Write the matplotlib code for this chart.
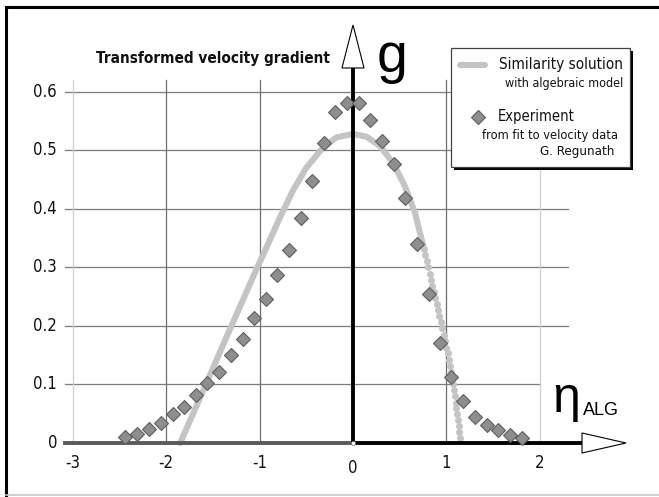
import matplotlib
matplotlib.use('Agg')
import matplotlib.pyplot as plt
from matplotlib.patches import Polygon, Rectangle

# experimental g(eta), from fit to velocity data
exp_eta = [-2.44, -2.31, -2.18, -2.06, -1.93, -1.81, -1.68, -1.56, -1.43, -1.31,
           -1.18, -1.06, -0.935, -0.81, -0.685, -0.56, -0.44, -0.31, -0.19, -0.06,
           0.06, 0.18, 0.31, 0.44, 0.56, 0.685, 0.815, 0.935, 1.05, 1.18,
           1.31, 1.43, 1.55, 1.68, 1.81]
exp_g = [0.010, 0.015, 0.024, 0.034, 0.050, 0.062, 0.082, 0.102, 0.122, 0.150,
         0.178, 0.214, 0.246, 0.287, 0.329, 0.385, 0.448, 0.513, 0.565, 0.581,
         0.581, 0.552, 0.516, 0.476, 0.419, 0.340, 0.254, 0.170, 0.112, 0.071,
         0.045, 0.031, 0.022, 0.014, 0.008]

# similarity solution with algebraic model
sim_eta = [-1.85, -1.57, -1.335, -1.03, -0.92, -0.78, -0.64, -0.5, -0.32, -0.175,
           0.0, 0.147, 0.289, 0.431, 0.557, 0.664, 0.753]
sim_g = [0.0, 0.102, 0.188, 0.298, 0.336, 0.386, 0.432, 0.470, 0.505, 0.522,
         0.528, 0.523, 0.507, 0.478, 0.438, 0.393, 0.336]
# steep end of the solution, plotted point by point
tail_eta = [0.76, 0.775, 0.79, 0.805, 0.82, 0.835, 0.85, 0.865, 0.88, 0.895, 0.91,
            0.925, 0.94, 0.955, 0.97, 0.985, 1.0, 1.012, 1.024, 1.036, 1.048, 1.06,
            1.07, 1.08, 1.09, 1.1, 1.108, 1.116, 1.124, 1.132, 1.14, 1.147]
tail_g = [0.331, 0.321, 0.310, 0.300, 0.289, 0.279, 0.268, 0.258, 0.248, 0.237, 0.227,
          0.217, 0.207, 0.196, 0.185, 0.174, 0.163, 0.153, 0.142, 0.131, 0.121, 0.110,
          0.100, 0.090, 0.080, 0.069, 0.059, 0.049, 0.039, 0.029, 0.018, 0.008]

x_ticks = [-3, -2, -1, 0, 1, 2]
y_ticks = [0, 0.1, 0.2, 0.3, 0.4, 0.5, 0.6]

NARROW = dict(family=['DejaVu Sans'], fontstretch='condensed')
PLAIN = ['Liberation Sans', 'DejaVu Sans']
W, H = 659, 497


def fx(x):
    return x / W


def fy(y):
    return 1 - y / H


fig = plt.figure(figsize=(W / 100, H / 100), dpi=100)
fig.patch.set_facecolor('white')
ax = fig.add_axes([0, 0, 1, 1])
# 93.4 px per unit in eta, 585.5 px per unit in g, origin at (353, 443)
ax.set_xlim((0 - 353) / 93.4, (W - 353) / 93.4)
ax.set_ylim((443 - H) / 585.5, 443 / 585.5)
ax.axis('off')
tf = fig.transFigure

# outer frame
fig.add_artist(plt.Line2D([fx(6), fx(6)], [fy(7), fy(495)], color='black', lw=2.2, transform=tf))
fig.add_artist(plt.Line2D([fx(6), fx(659)], [fy(7), fy(7)], color='black', lw=2.2, transform=tf))
fig.add_artist(plt.Line2D([fx(6), fx(659)], [fy(495), fy(495)], color='#c8c8c8', lw=1.2, transform=tf))

# grid
x0 = -3.086
for yv in y_ticks[1:]:
    xe = 2.0 if yv == 0.1 else 2.3
    ax.plot([x0, xe], [yv, yv], color='#7c7c7c', lw=0.9, zorder=1)
for xv in x_ticks:
    if xv == 0:
        continue
    c = '#cfcfcf' if xv in (-3, 2) else '#6e6e6e'
    ax.plot([xv, xv], [0, 0.62], color=c, lw=0.9, zorder=1)

# tick labels
for yv in y_ticks:
    ax.text(-3.169, yv, f'{yv:g}', ha='right', va='center', fontsize=12,
            color='#111111', **NARROW)
for xv in x_ticks:
    yl = -0.042 if xv == 0 else -0.034
    ax.text(xv, yl, f'{xv:g}', ha='center', va='center', fontsize=12,
            color='#111111', **NARROW)

# solution curve and experiment
ax.plot(sim_eta, sim_g, color='#c4c4c4', lw=4.4, solid_capstyle='round', zorder=3)
ax.plot(tail_eta, tail_g, 'o', color='#c4c4c4', ms=5, mew=0, zorder=3)

# axes with arrow heads
ax.plot([x0, 0], [0, 0], color='#5a5a5a', lw=2.8, zorder=4)
ax.plot([0, 2.452], [0, 0], color='black', lw=2.8, zorder=4)
ax.add_patch(Polygon([(2.452, 0.0171), (2.923, 0), (2.452, -0.0171)], closed=True,
                     fc='white', ec='black', lw=0.8, zorder=5))
ax.plot([0, 0], [0, 0.6405], color='black', lw=2.8, zorder=4)
ax.add_patch(Polygon([(-0.118, 0.6405), (0, 0.714), (0.118, 0.6405)], closed=True,
                     fc='white', ec='black', lw=0.8, zorder=5))
ax.plot([0], [0], 'o', color='white', ms=3, mec='#777777', mew=0.5, zorder=6)

ax.plot(exp_eta, exp_g, 'D', color='#8e8e8e', mec='#5e5e5e', mew=0.8, ms=7, zorder=6)

# axis titles
fig.text(fx(330), fy(59), 'Transformed velocity gradient', ha='right', va='center',
         fontsize=11, fontweight='bold', color='#111111', **NARROW)
fig.text(fx(392), fy(72), 'g', ha='center', va='baseline', fontsize=40,
         family=PLAIN, color='black')
fig.text(fx(566), fy(399), 'η', ha='center', va='center', fontsize=36,
         family=PLAIN, color='black')
fig.text(fx(583), fy(415), 'ALG', ha='left', va='baseline', fontsize=13,
         family=PLAIN, color='black')

# legend box with shadow
fig.add_artist(Rectangle((fx(454), fy(170)), (630 - 451) / W, (167 - 48) / H, transform=tf,
                         fc='black', ec='none', zorder=7))
fig.add_artist(Rectangle((fx(451), fy(167)), (630 - 451) / W, (167 - 48) / H, transform=tf,
                         fc='white', ec='#444444', lw=0.9, zorder=8))
fig.add_artist(plt.Line2D([fx(460), fx(485)], [fy(65), fy(65)], color='#c4c4c4', lw=4.4,
                          solid_capstyle='round', transform=tf, zorder=9))
fig.add_artist(plt.Line2D([fx(478)], [fy(117)], marker='D', color='#8e8e8e', mec='#5e5e5e',
                          mew=0.8, ms=7, transform=tf, zorder=9))
legend_texts = [
    (623, 64, 'Similarity solution', 'right', 11),
    (623, 83, 'with algebraic model', 'right', 9),
    (498, 116, 'Experiment', 'left', 10.5),
    (550, 135, 'from fit to velocity data', 'center', 9.2),
    (614, 152, 'G. Regunath', 'right', 9.5),
]
for x, y, s, ha, size in legend_texts:
    fig.text(fx(x), fy(y), s, ha=ha, va='center', fontsize=size,
             color='#111111', zorder=10, **NARROW)

fig.savefig('out.png', dpi=100)
